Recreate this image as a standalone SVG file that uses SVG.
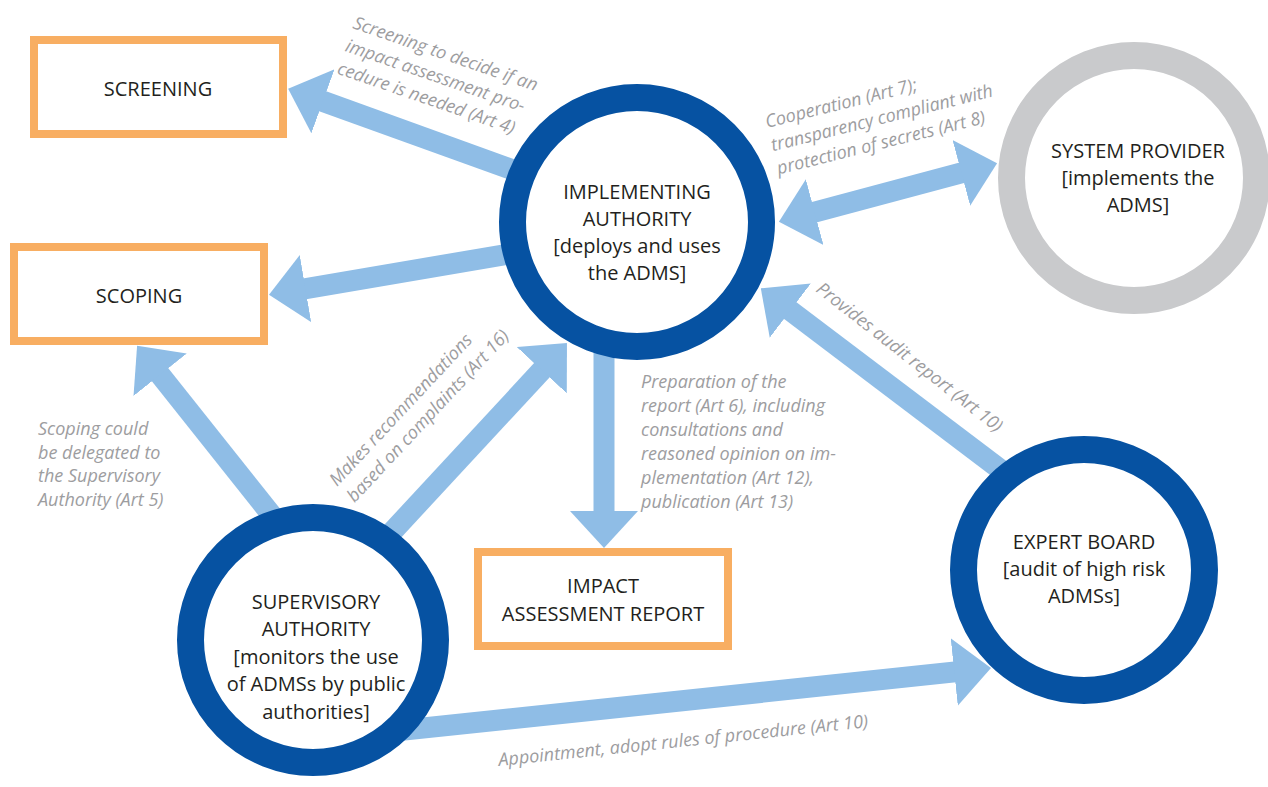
<svg xmlns="http://www.w3.org/2000/svg" width="1268" height="787" viewBox="0 0 1268 787">
<style>
.box{fill:#fff;stroke:#F8AE62;stroke-width:8}
.ring{fill:#fff;stroke:#0652A2;stroke-width:27}
.ring-grey{fill:#fff;stroke:#C9CACC;stroke-width:27}
.nt{font-family:"Open Sans","Noto Sans",sans-serif;font-size:20px;fill:#231F20;text-anchor:middle}
.lbl{font-family:"Open Sans","Noto Sans",sans-serif;font-style:italic;font-size:18px;fill:#9D9D9F}
.arr{stroke:#8FBDE6;stroke-width:21;fill:none;marker-end:url(#head)}
</style>
<defs>
<marker id="head" markerUnits="userSpaceOnUse" viewBox="0 -34 37 68" markerWidth="37" markerHeight="68" refX="1" refY="0" orient="auto-start-reverse">
<path d="M0,-34 L37,0 L0,34 Z" fill="#8FBDE6"/>
</marker>
</defs>
<rect width="1268" height="787" fill="#fff"/>
<g id="connectors">
<line class="arr" x1="566" y1="189" x2="322" y2="101"/>
<line class="arr" x1="580.6" y1="241.8" x2="304.5" y2="288.8"/>
<line class="arr" x1="604" y1="340" x2="604" y2="512"/>
<line class="arr" x1="813.7" y1="212.4" x2="962.3" y2="172.6" style="marker-start:url(#head)"/>
<line class="arr" x1="1012.7" y1="479" x2="789.5" y2="310"/>
<line class="arr" x1="372.5" y1="553" x2="542.5" y2="369.5"/>
<line class="arr" x1="315" y1="569.5" x2="159.5" y2="374"/>
<line class="arr" x1="344.7" y1="736.3" x2="955.2" y2="671.9"/>
<g class="lbl">
<text transform="translate(352,28) rotate(19)"><tspan x="0" y="0">Screening to decide if an</tspan><tspan x="0" y="24">impact assessment pro-</tspan><tspan x="0" y="48">cedure is needed (Art 4)</tspan></text>
<text transform="translate(767,128) rotate(-14)"><tspan x="0" y="0">Cooperation (Art 7);</tspan><tspan x="0" y="24">transparency compliant with</tspan><tspan x="0" y="48">protection of secrets (Art 8)</tspan></text>
<text><tspan x="641" y="388">Preparation of the</tspan><tspan x="641" y="412">report (Art 6), including</tspan><tspan x="641" y="436">consultations and</tspan><tspan x="641" y="460">reasoned opinion on im-</tspan><tspan x="641" y="484">plementation (Art 12),</tspan><tspan x="641" y="508">publication (Art 13)</tspan></text>
<text><tspan x="38" y="435">Scoping could</tspan><tspan x="38" y="458.5">be delegated to</tspan><tspan x="38" y="482">the Supervisory</tspan><tspan x="38" y="505.5">Authority (Art 5)</tspan></text>
<text transform="translate(337,487) rotate(-47)"><tspan x="0" y="0">Makes recommendations</tspan><tspan x="0" y="24">based on complaints (Art 16)</tspan></text>
<text transform="translate(815,291) rotate(38)">Provides audit report (Art 10)</text>
<text transform="translate(499,766) rotate(-6)">Appointment, adopt rules of procedure (Art 10)</text>
</g>
</g>
<g id="screening">
<rect class="box" x="34" y="40" width="249" height="94"/>
<text class="nt" x="158" y="96">SCREENING</text>
</g>
<g id="scoping">
<rect class="box" x="14" y="247" width="250" height="94"/>
<text class="nt" x="139" y="303">SCOPING</text>
</g>
<g id="impact-assessment-report">
<rect class="box" x="478" y="552" width="250" height="94"/>
<text class="nt"><tspan x="603" y="593">IMPACT</tspan><tspan x="603" y="621">ASSESSMENT REPORT</tspan></text>
</g>
<g id="implementing-authority">
<circle class="ring" cx="637" cy="222" r="124.5"/>
<text class="nt"><tspan x="637" y="199">IMPLEMENTING</tspan><tspan x="637" y="226">AUTHORITY</tspan><tspan x="637" y="253">[deploys and uses</tspan><tspan x="637" y="280">the ADMS]</tspan></text>
</g>
<g id="system-provider">
<circle class="ring-grey" cx="1134" cy="178" r="122.5"/>
<text class="nt"><tspan x="1138" y="158">SYSTEM PROVIDER</tspan><tspan x="1138" y="185">[implements the</tspan><tspan x="1138" y="212">ADMS]</tspan></text>
</g>
<g id="expert-board">
<circle class="ring" cx="1084" cy="570" r="120.5"/>
<text class="nt"><tspan x="1084" y="549">EXPERT BOARD</tspan><tspan x="1084" y="576">[audit of high risk</tspan><tspan x="1084" y="603">ADMSs]</tspan></text>
</g>
<g id="supervisory-authority">
<circle class="ring" cx="313" cy="640" r="122.5"/>
<text class="nt"><tspan x="316" y="609">SUPERVISORY</tspan><tspan x="316" y="636">AUTHORITY</tspan><tspan x="316" y="664">[monitors the use</tspan><tspan x="316" y="691">of ADMSs by public</tspan><tspan x="316" y="719">authorities]</tspan></text>
</g>
</svg>
